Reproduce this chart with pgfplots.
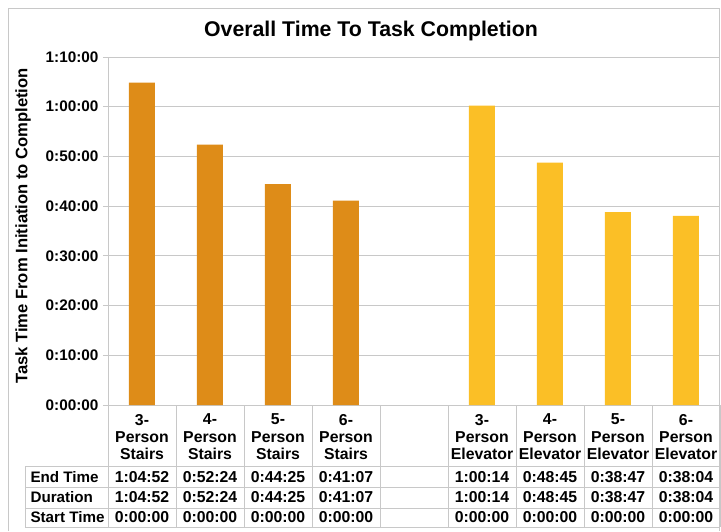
\documentclass[border=0pt]{standalone}
\usepackage{pgfplots}
\pgfplotsset{compat=1.18}
\usepackage{fontspec}
\setmainfont{Liberation Sans}
\definecolor{stair}{RGB}{222,140,24}
\definecolor{elev}{RGB}{251,191,38}
\definecolor{gridc}{RGB}{200,200,200}
\begin{document}
\begin{tikzpicture}[x=1pt,y=1pt,font=\bfseries\fontsize{15.8}{17}\selectfont]
\path[use as bounding box] (0,0) rectangle (721,531);
\draw[gridc,line width=1pt] (8,0) -- (8,522) -- (719,522) -- (719,0);
\begin{axis}[at={(108pt,126pt)}, anchor=south west, scale only axis,
  width=612pt, height=348pt,
  xmin=0, xmax=9, ymin=0, ymax=70,
  axis y line*=left, axis x line*=bottom,
  axis line style={gridc,-,line width=0.8pt},
  ytick={0,10,...,70},
  yticklabels={0:00:00,0:10:00,0:20:00,0:30:00,0:40:00,0:50:00,1:00:00,1:10:00},
  ytick style={gridc,line width=0.8pt}, tick align=outside,
  major tick length=5pt,
  ymajorgrids, grid style={gridc,line width=0.8pt},
  xtick={0.5,1.5,2.5,3.5,5.5,6.5,7.5,8.5},
  xticklabels={{3-\\Person\\Stairs},{4-\\Person\\Stairs},{5-\\Person\\Stairs},{6-\\Person\\Stairs},
    {3-\\Person\\Elevator},{4-\\Person\\Elevator},{5-\\Person\\Elevator},{6-\\Person\\Elevator}},
  xtick style={draw=none},
  xticklabel style={align=center, anchor=north, yshift=-0.5pt, font=\bfseries\fontsize{15.8}{17.3}\selectfont},
  yticklabel style={font=\bfseries\fontsize{15.3}{17}\selectfont, xshift=-1pt},
  clip=false,
]
\addplot[ybar, bar width=26pt, bar shift=0pt, fill=stair, draw=none]
  coordinates {(0.5,64.867) (1.5,52.4) (2.5,44.417) (3.5,41.117)};
\addplot[ybar, bar width=26pt, bar shift=0pt, fill=elev, draw=none]
  coordinates {(5.5,60.233) (6.5,48.75) (7.5,38.783) (8.5,38.067)};
\end{axis}
\node[font=\bfseries\fontsize{21.3}{24}\selectfont] at (371,500) {Overall Time To Task Completion};
\node[rotate=90,font=\bfseries\fontsize{16.6}{19}\selectfont] at (23,305) {Task Time From Initiation to Completion};
% table grid
\foreach \yy in {65,44,23,4} \draw[gridc,line width=0.8pt] (25,\yy) -- (720,\yy);
\draw[gridc,line width=0.8pt] (25,65) -- (25,4);
\foreach \k in {0,...,9} \draw[gridc,line width=0.8pt] (108+68*\k,126) -- (108+68*\k,4);
\begin{scope}[font=\bfseries\fontsize{15.2}{17}\selectfont]
\node[anchor=west] at (27,54) {End Time};
\node[anchor=west] at (27,33.5) {Duration};
\node[anchor=west] at (27,13.5) {Start Time};
\end{scope}
\foreach \k/\v in {0/1:04:52,1/0:52:24,2/0:44:25,3/0:41:07,5/1:00:14,6/0:48:45,7/0:38:47,8/0:38:04}{
  \node at (142+68*\k,54) {\v};
  \node at (142+68*\k,33.5) {\v};
  \node at (142+68*\k,13.5) {0:00:00};
}
\end{tikzpicture}
\end{document}
